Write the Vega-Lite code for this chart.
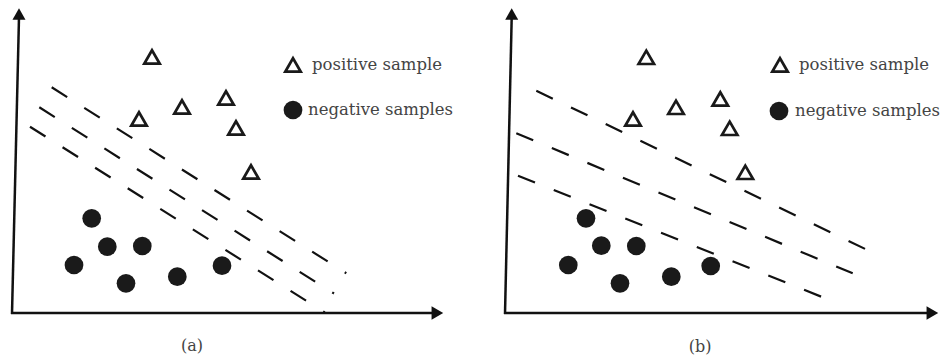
{
  "$schema": "https://vega.github.io/schema/vega-lite/v6.json",
  "padding": 0,
  "background": "white",
  "spacing": 39,
  "config": {"view": {"stroke": null}},
  "data": {"values": [
    {"panel": "a", "kind": "axis", "x": -1, "y": 0, "x2": 421, "y2": 0},
    {"panel": "a", "kind": "axis", "x": 0, "y": -1, "x2": 7, "y2": 296},
    {"panel": "b", "kind": "axis", "x": -1, "y": 0, "x2": 423, "y2": 0},
    {"panel": "b", "kind": "axis", "x": 0, "y": -1, "x2": 6.7, "y2": 296},
    {"panel": "a", "kind": "arrowR", "x": 425.4, "y": 0},
    {"panel": "b", "kind": "arrowR", "x": 427.4, "y": 0},
    {"panel": "a", "kind": "arrowU", "x": 7, "y": 299},
    {"panel": "b", "kind": "arrowU", "x": 6.7, "y": 299},
    {"panel": "a", "kind": "dash", "x": 39.7, "y": 225.7, "x2": 334.3, "y2": 39.8},
    {"panel": "a", "kind": "dash", "x": 27.3, "y": 205.7, "x2": 322, "y2": 19.5},
    {"panel": "a", "kind": "dash", "x": 18, "y": 186.3, "x2": 312.8, "y2": 0.5},
    {"panel": "b", "kind": "dash", "x": 31.3, "y": 222.3, "x2": 360.3, "y2": 64},
    {"panel": "b", "kind": "dash", "x": 11.3, "y": 179.7, "x2": 347.7, "y2": 39.7},
    {"panel": "b", "kind": "dash", "x": 13, "y": 137.3, "x2": 316.3, "y2": 16.3},
    {"panel": "a", "kind": "tri", "x": 140, "y": 256},
    {"panel": "a", "kind": "tri", "x": 127, "y": 194},
    {"panel": "a", "kind": "tri", "x": 170, "y": 206},
    {"panel": "a", "kind": "tri", "x": 214, "y": 215},
    {"panel": "a", "kind": "tri", "x": 224, "y": 185},
    {"panel": "a", "kind": "tri", "x": 239, "y": 141},
    {"panel": "a", "kind": "tri", "x": 281, "y": 248},
    {"panel": "a", "kind": "circ", "x": 79.7, "y": 94.7},
    {"panel": "a", "kind": "circ", "x": 95.3, "y": 66.3},
    {"panel": "a", "kind": "circ", "x": 130.3, "y": 67},
    {"panel": "a", "kind": "circ", "x": 62, "y": 48},
    {"panel": "a", "kind": "circ", "x": 114, "y": 29.7},
    {"panel": "a", "kind": "circ", "x": 165.3, "y": 36.3},
    {"panel": "a", "kind": "circ", "x": 210, "y": 47.3},
    {"panel": "a", "kind": "circ", "x": 281, "y": 203},
    {"panel": "b", "kind": "tri", "x": 141.3, "y": 255.7},
    {"panel": "b", "kind": "tri", "x": 128, "y": 194},
    {"panel": "b", "kind": "tri", "x": 171, "y": 205.7},
    {"panel": "b", "kind": "tri", "x": 215.3, "y": 214},
    {"panel": "b", "kind": "tri", "x": 224.7, "y": 184.7},
    {"panel": "b", "kind": "tri", "x": 240.3, "y": 140.7},
    {"panel": "b", "kind": "tri", "x": 275, "y": 248},
    {"panel": "b", "kind": "circ", "x": 81, "y": 94.7},
    {"panel": "b", "kind": "circ", "x": 96.3, "y": 67.3},
    {"panel": "b", "kind": "circ", "x": 131.3, "y": 67},
    {"panel": "b", "kind": "circ", "x": 63.3, "y": 48},
    {"panel": "b", "kind": "circ", "x": 115, "y": 29.7},
    {"panel": "b", "kind": "circ", "x": 166.3, "y": 36.3},
    {"panel": "b", "kind": "circ", "x": 205.7, "y": 47},
    {"panel": "b", "kind": "circ", "x": 274, "y": 202},
    {"panel": "a", "kind": "label", "x": 300, "y": 248, "text": "positive sample"},
    {"panel": "a", "kind": "label", "x": 296, "y": 203, "text": "negative samples"},
    {"panel": "b", "kind": "label", "x": 294, "y": 248, "text": "positive sample"},
    {"panel": "b", "kind": "label", "x": 290, "y": 202, "text": "negative samples"},
    {"panel": "a", "kind": "cap", "x": 180, "y": -33, "text": "(a)"},
    {"panel": "b", "kind": "cap", "x": 195, "y": -34, "text": "(b)"}
  ]},
  "facet": {"column": {"field": "panel", "type": "nominal", "header": null}},
  "spec": {
    "width": 452,
    "height": 358,
    "encoding": {
      "x": {"field": "x", "type": "quantitative", "scale": {"domain": [-12, 440], "nice": false, "zero": false}, "axis": null},
      "y": {"field": "y", "type": "quantitative", "scale": {"domain": [-45, 313], "nice": false, "zero": false}, "axis": null}
    },
    "layer": [
      {
        "transform": [{"filter": "datum.kind === 'axis'"}],
        "mark": {"type": "rule", "color": "#111111", "strokeWidth": 2.5},
        "encoding": {"x2": {"field": "x2"}, "y2": {"field": "y2"}}
      },
      {
        "transform": [{"filter": "datum.kind === 'dash'"}],
        "mark": {"type": "rule", "color": "#111111", "strokeWidth": 2.2, "strokeDash": [18.3, 20.2]},
        "encoding": {"x2": {"field": "x2"}, "y2": {"field": "y2"}}
      },
      {
        "transform": [{"filter": "datum.kind === 'arrowR'"}],
        "mark": {"type": "point", "shape": "triangle-right", "filled": true, "color": "#111111", "size": 180, "opacity": 1}
      },
      {
        "transform": [{"filter": "datum.kind === 'arrowU'"}],
        "mark": {"type": "point", "shape": "triangle-up", "filled": true, "color": "#111111", "size": 170, "opacity": 1}
      },
      {
        "transform": [{"filter": "datum.kind === 'tri'"}],
        "mark": {"type": "point", "shape": "triangle-up", "filled": false, "stroke": "#1a1a1a", "strokeWidth": 2.7, "size": 240, "opacity": 1}
      },
      {
        "transform": [{"filter": "datum.kind === 'circ'"}],
        "mark": {"type": "point", "shape": "circle", "filled": true, "color": "#1a1a1a", "size": 350, "opacity": 1}
      },
      {
        "transform": [{"filter": "datum.kind === 'label'"}],
        "mark": {"type": "text", "align": "left", "baseline": "middle", "font": "DejaVu Serif", "fontSize": 16.5, "color": "#444444"},
        "encoding": {"text": {"field": "text"}}
      },
      {
        "transform": [{"filter": "datum.kind === 'cap'"}],
        "mark": {"type": "text", "align": "center", "baseline": "middle", "font": "DejaVu Serif", "fontSize": 16, "color": "#444444"},
        "encoding": {"text": {"field": "text"}}
      }
    ]
  }
}
